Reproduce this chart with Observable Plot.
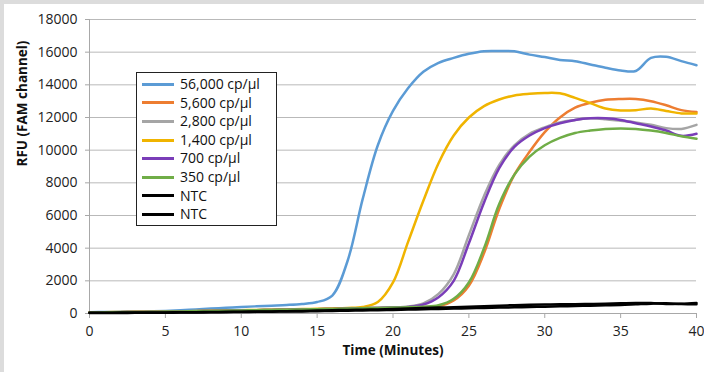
<!DOCTYPE html>
<html>
<head>
<meta charset="utf-8">
<script src="https://cdn.jsdelivr.net/npm/d3@7"></script>
<script src="https://cdn.jsdelivr.net/npm/@observablehq/plot@0.6"></script>
<style>
  html, body { margin: 0; padding: 0; background: #dcdcdc; }
  #panel { position: absolute; left: 4px; top: 4px; width: 700px; height: 368px; background: #fff; overflow: hidden; }
  #panel svg { position: absolute; left: 0; top: 0; }
  #legend { position: absolute; left: 132px; top: 68px; width: 134px; border: 1px solid #222; background: #fff;
            font-family: "Open Sans", sans-serif; font-size: 14px; color: #111; padding: 2px 0 1px 5px; }
  #legend .row { height: 18.6px; line-height: 18.6px; display: flex; align-items: center; white-space: nowrap; }
  #legend .sw { width: 32px; height: 0; border-top: 3px solid; margin-right: 6px; }
</style>
</head>
<body>
<div id="panel"></div>
<script>
// ---- data ----
const times = d3.range(0, 41); // minutes 0..40
const seriesNames = ["56,000 cp/µl", "5,600 cp/µl", "2,800 cp/µl", "1,400 cp/µl", "700 cp/µl", "350 cp/µl", "NTC", "NTC"];
const seriesColors = ["#5b9bd5", "#ed7d31", "#a5a5a5", "#f0b400", "#7a3db8", "#70ad47", "#000000", "#000000"];

const rfu56000 = [80,90,100,110,130,160,200,250,300,350,400,440,480,520,580,700,1100,3200,7000,10300,12400,13800,14800,15350,15650,15900,16060,16070,16050,15850,15700,15520,15450,15250,15050,14880,14850,15650,15720,15450,15200];
const rfu5600  = [60,70,80,90,100,115,130,145,160,175,190,205,220,235,250,265,280,300,320,340,360,380,400,450,800,1700,3700,6400,8500,9900,11100,12000,12600,12900,13080,13130,13130,13000,12750,12450,12330];
const rfu2800  = [60,70,80,90,100,115,130,145,160,175,190,205,220,235,250,265,280,300,320,340,370,430,620,1200,2400,4800,7200,9100,10300,11000,11400,11700,11850,11950,11900,11800,11700,11550,11350,11300,11550];
const rfu1400  = [70,80,90,100,110,120,135,150,165,180,200,215,230,250,270,290,310,340,400,700,1900,4400,6900,9200,10900,12000,12700,13100,13350,13450,13500,13480,13200,12880,12550,12430,12450,12550,12400,12250,12250];
const rfu700   = [60,70,80,90,100,115,130,145,160,175,190,205,220,235,250,265,280,300,320,340,360,400,550,1000,2000,4300,6800,8900,10200,10900,11350,11650,11850,11950,11950,11850,11650,11450,11200,10880,11000];
const rfu350   = [60,70,80,90,100,115,130,145,160,175,190,205,220,235,250,265,280,300,320,340,360,390,420,500,900,1900,4000,6700,8500,9600,10300,10750,11050,11200,11300,11330,11300,11200,11050,10850,10700];
const rfuNTC1  = [50,52,55,58,62,68,75,82,90,100,110,120,130,145,160,180,200,215,230,250,270,300,330,360,390,420,450,480,510,530,550,560,570,580,600,620,640,640,580,600,650];
const rfuNTC2  = [30,33,36,40,45,50,55,62,70,80,90,100,110,120,130,145,160,175,190,205,220,240,260,280,300,320,340,360,380,400,420,440,460,480,500,520,560,600,620,580,560];

const xTicks = [0,5,10,15,20,25,30,35,40];
const yTicks = [0,2000,4000,6000,8000,10000,12000,14000,16000,18000];
const xTitle = "Time (Minutes)";
const yTitle = "RFU (FAM channel)";

// ---- build table ----
const seriesValues = [rfu56000, rfu5600, rfu2800, rfu1400, rfu700, rfu350, rfuNTC1, rfuNTC2];
const rows = seriesValues.flatMap((vals, i) =>
  vals.map((v, j) => ({ id: i, name: seriesNames[i], t: times[j], v, color: seriesColors[i] }))
);

const font = '"Open Sans", sans-serif';
const chart = Plot.plot({
  width: 700,
  height: 368,
  marginLeft: 85,
  marginRight: 8,
  marginTop: 15,
  marginBottom: 59,
  style: { fontFamily: font, fontSize: "14px", color: "#222", background: "transparent" },
  x: { domain: [0, 40] },
  y: { domain: [0, 18000] },
  marks: [
    Plot.gridY(yTicks.filter(d => d > 0), { stroke: "#b9b9b9", strokeOpacity: 1, strokeWidth: 1 }),
    Plot.ruleX([0], { stroke: "#a8a8a8" }),
    Plot.ruleY([0], { stroke: "#a8a8a8" }),
    Plot.axisY({ ticks: yTicks, tickSize: 4, tickPadding: 8, stroke: "#a8a8a8", label: null, tickFormat: d => String(d), fontSize: 14 }),
    Plot.axisX({ ticks: xTicks, tickSize: 5, tickPadding: 8, stroke: "#a8a8a8", label: null, tickFormat: d => String(d), fontSize: 14 }),
    Plot.line(rows, { x: "t", y: "v", z: "id", stroke: "color", strokeWidth: 2.5, curve: "catmull-rom" }),
    Plot.text([yTitle], { frameAnchor: "left", dx: -67, rotate: -90, fontWeight: "bold", fontSize: 13.5, fill: "#111" }),
    Plot.text([xTitle], { frameAnchor: "bottom", dy: 41, fontWeight: "bold", fontSize: 13.5, fill: "#111" })
  ]
});
const panel = document.getElementById("panel");
panel.appendChild(chart);

// legend
const legend = document.createElement("div");
legend.id = "legend";
seriesNames.forEach((n, i) => {
  const row = document.createElement("div");
  row.className = "row";
  const sw = document.createElement("span");
  sw.className = "sw";
  sw.style.borderTopColor = seriesColors[i];
  const label = document.createElement("span");
  label.textContent = n;
  row.appendChild(sw);
  row.appendChild(label);
  legend.appendChild(row);
});
panel.appendChild(legend);
</script>
</body>
</html>
